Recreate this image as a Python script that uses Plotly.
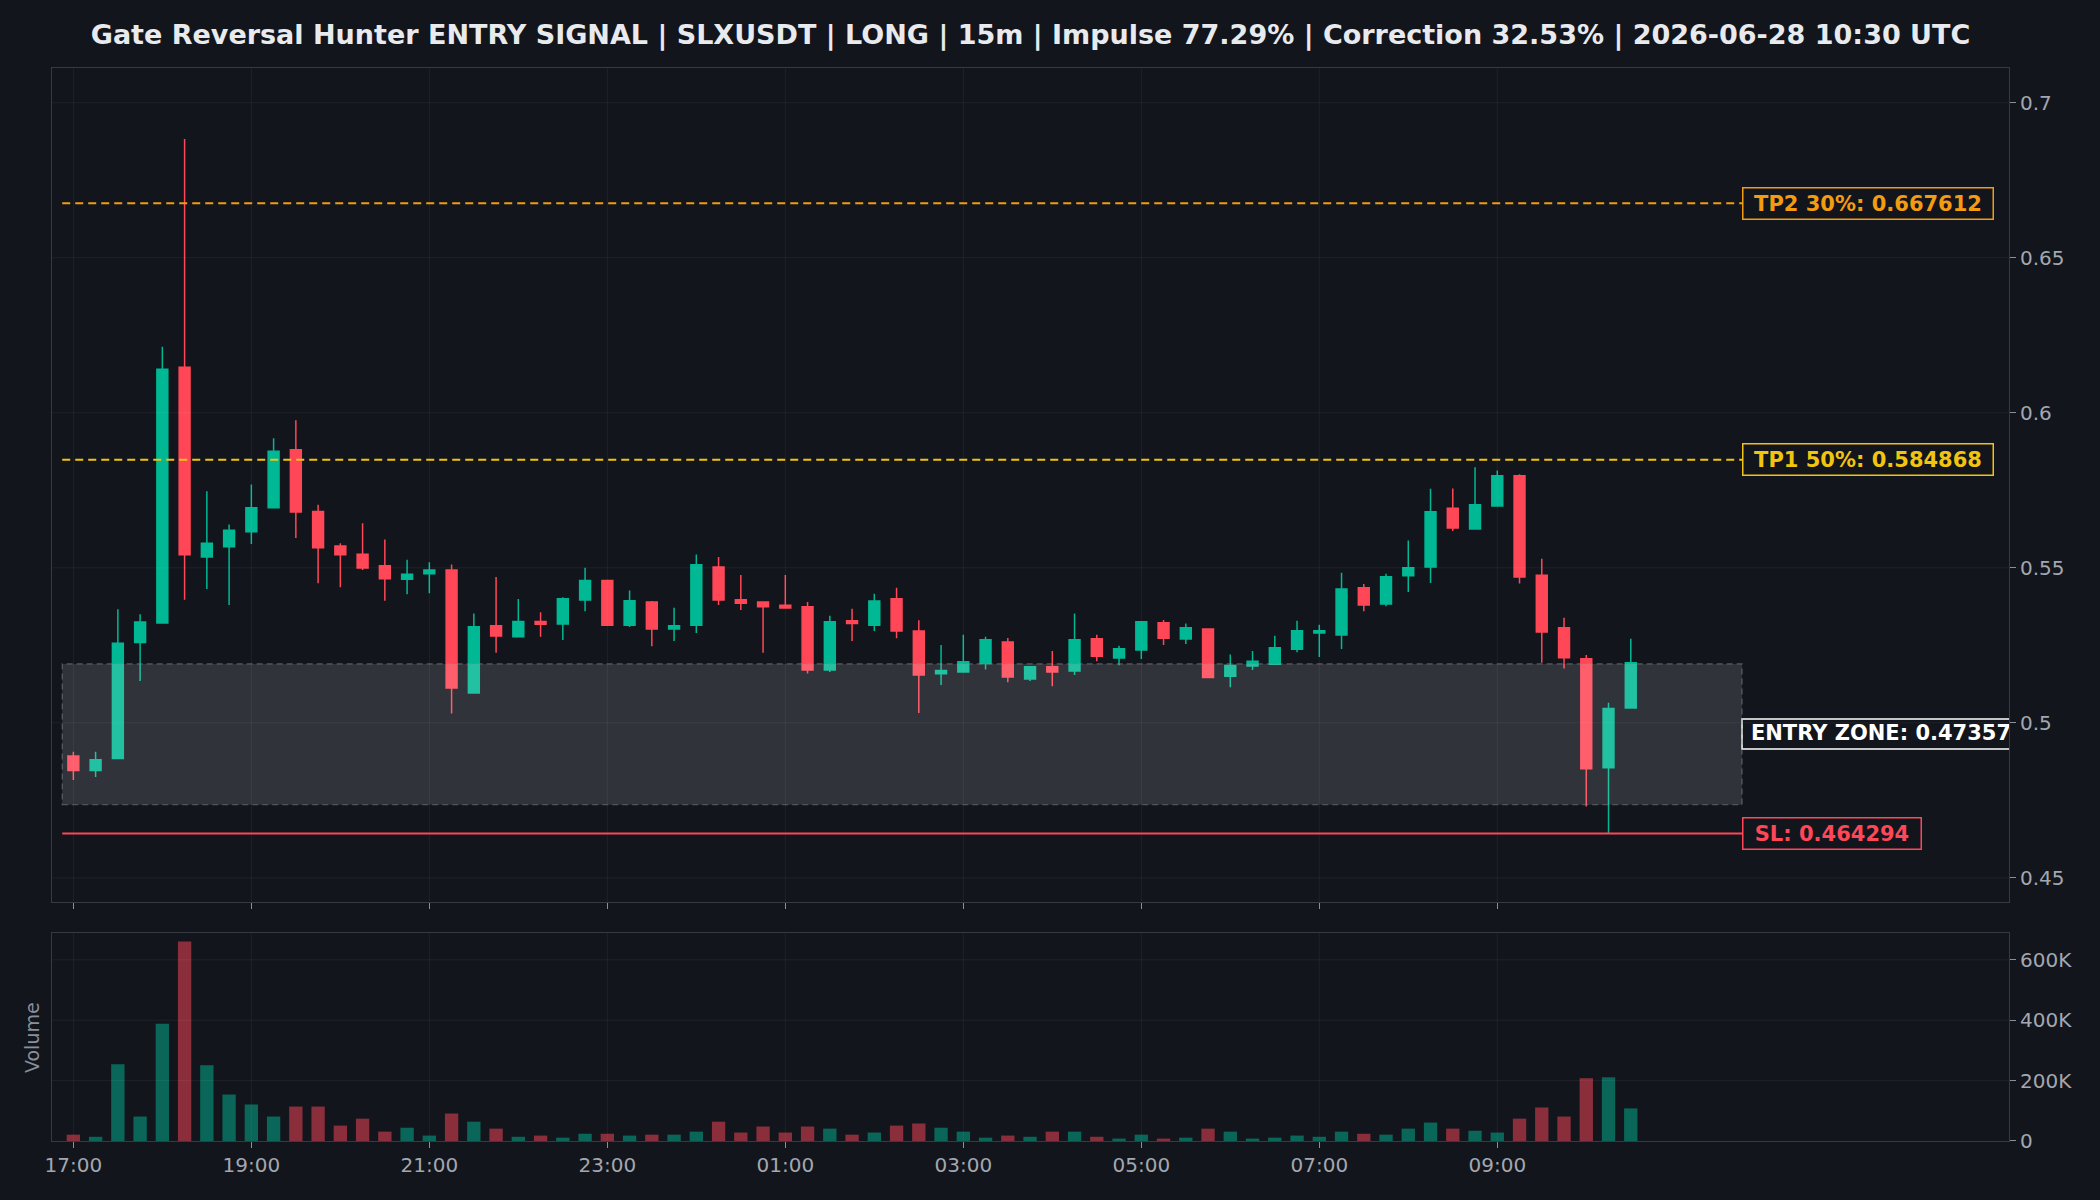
import pandas as pd
import plotly.graph_objects as go

# ---------------- data ----------------
start_time = "2026-06-27 17:00"
n_bars = 71
opens = [0.4893, 0.4846, 0.4885, 0.5259, 0.5322, 0.6147, 0.5535, 0.5568, 0.5616, 0.5694,
         0.5881, 0.5682, 0.5570, 0.5544, 0.5507, 0.5463, 0.5481, 0.5493, 0.5096, 0.5313,
         0.5278, 0.5327, 0.5319, 0.5396, 0.5459, 0.5315, 0.5390, 0.5303, 0.5315, 0.5503,
         0.5397, 0.5390, 0.5379, 0.5374, 0.5170, 0.5329, 0.5315, 0.5400, 0.5296, 0.5158,
         0.5164, 0.5191, 0.5261, 0.5141, 0.5181, 0.5167, 0.5271, 0.5209, 0.5235, 0.5323,
         0.5270, 0.5303, 0.5150, 0.5183, 0.5189, 0.5237, 0.5290, 0.5283, 0.5436, 0.5383,
         0.5474, 0.5503, 0.5692, 0.5625, 0.5699, 0.5797, 0.5476, 0.5307, 0.5207, 0.4855,
         0.5048]
highs = [0.4907, 0.4907, 0.5366, 0.5350, 0.6213, 0.6883, 0.5747, 0.5640, 0.5769, 0.5918,
         0.5976, 0.5703, 0.5579, 0.5644, 0.5591, 0.5526, 0.5518, 0.5511, 0.5353, 0.5470,
         0.5399, 0.5357, 0.5405, 0.5500, 0.5461, 0.5427, 0.5393, 0.5371, 0.5543, 0.5535,
         0.5477, 0.5391, 0.5477, 0.5390, 0.5345, 0.5368, 0.5416, 0.5436, 0.5331, 0.5251,
         0.5284, 0.5278, 0.5274, 0.5183, 0.5232, 0.5353, 0.5284, 0.5249, 0.5328, 0.5332,
         0.5320, 0.5305, 0.5220, 0.5232, 0.5281, 0.5329, 0.5316, 0.5484, 0.5448, 0.5481,
         0.5588, 0.5755, 0.5756, 0.5824, 0.5814, 0.5802, 0.5529, 0.5339, 0.5219, 0.5065,
         0.5271]
lows = [0.4816, 0.4825, 0.4883, 0.5135, 0.5320, 0.5397, 0.5432, 0.5380, 0.5577, 0.5692,
        0.5596, 0.5450, 0.5437, 0.5493, 0.5394, 0.5415, 0.5418, 0.5030, 0.5094, 0.5226,
        0.5276, 0.5278, 0.5267, 0.5360, 0.5313, 0.5309, 0.5247, 0.5264, 0.5290, 0.5380,
        0.5364, 0.5226, 0.5369, 0.5159, 0.5164, 0.5264, 0.5296, 0.5273, 0.5032, 0.5122,
        0.5163, 0.5172, 0.5131, 0.5135, 0.5118, 0.5154, 0.5199, 0.5186, 0.5206, 0.5251,
        0.5254, 0.5144, 0.5115, 0.5170, 0.5188, 0.5228, 0.5212, 0.5238, 0.5360, 0.5376,
        0.5422, 0.5451, 0.5619, 0.5624, 0.5698, 0.5449, 0.5194, 0.5175, 0.4730, 0.4643,
        0.5047]
closes = [0.4846, 0.4881, 0.5257, 0.5325, 0.6140, 0.5542, 0.5579, 0.5621, 0.5694, 0.5876,
          0.5680, 0.5565, 0.5542, 0.5499, 0.5465, 0.5479, 0.5493, 0.5112, 0.5310, 0.5280,
          0.5327, 0.5318, 0.5400, 0.5459, 0.5315, 0.5394, 0.5303, 0.5313, 0.5510, 0.5396,
          0.5386, 0.5374, 0.5370, 0.5170, 0.5326, 0.5320, 0.5393, 0.5296, 0.5154, 0.5169,
          0.5197, 0.5268, 0.5148, 0.5181, 0.5164, 0.5268, 0.5215, 0.5239, 0.5326, 0.5273,
          0.5307, 0.5146, 0.5185, 0.5199, 0.5242, 0.5297, 0.5297, 0.5432, 0.5380, 0.5471,
          0.5500, 0.5681, 0.5628, 0.5703, 0.5797, 0.5470, 0.5293, 0.5210, 0.4852, 0.5046,
          0.5194]
volumes_k = [21, 14, 254, 81, 388, 661, 251, 154, 121, 81, 114, 114, 51, 74, 31, 44, 18, 91,
             64, 41, 14, 18, 11, 24, 24, 18, 21, 21, 31, 64, 28, 48, 28, 48, 41, 21, 28, 51,
             58, 44, 31, 11, 18, 14, 31, 31, 14, 8, 21, 8, 11, 41, 31, 8, 11, 18, 14, 31, 24,
             21, 41, 61, 41, 34, 28, 74, 111, 81, 208, 211, 108]

tp2_price = 0.667612
tp1_price = 0.584868
sl_price = 0.464294
entry_low = 0.473574
entry_high = 0.5190
entry_label = "ENTRY ZONE: 0.47357"

price_tick_vals = [0.45, 0.5, 0.55, 0.6, 0.65, 0.7]
price_tick_text = ["0.45", "0.5", "0.55", "0.6", "0.65", "0.7"]
vol_tick_vals = [0, 200000, 400000, 600000]
vol_tick_text = ["0", "200K", "400K", "600K"]
time_tick_text = ["17:00", "19:00", "21:00", "23:00", "01:00", "03:00", "05:00", "07:00", "09:00"]

title_text = ("Gate Reversal Hunter ENTRY SIGNAL | SLXUSDT | LONG | 15m | Impulse 77.29% | "
              "Correction 32.53% | 2026-06-28 10:30 UTC")

# ---------------- derived ----------------
bar = pd.Timedelta(minutes=15)
times = pd.date_range(start_time, periods=n_bars, freq="15min")
volumes = [v * 1000 for v in volumes_k]
time_ticks = pd.date_range(start_time, periods=len(time_tick_text), freq="2h")

GREEN = "#00b894"
RED = "#ff4757"
BG = "#12151c"
AXIS = "#363a45"
GRID = "rgba(255,255,255,0.055)"
TICKC = "#a3a7b0"
FONT = "DejaVu Sans"

x_range = [times[0] - 0.96 * bar, times[0] + 87 * bar]
zone_x0 = times[0] - 0.5 * bar
zone_x1 = times[-1] + 5 * bar

vol_colors = ["rgba(0,184,148,0.5)" if c >= o else "rgba(255,71,87,0.5)"
              for o, c in zip(opens, closes)]

fig = go.Figure()
fig.add_trace(go.Candlestick(
    x=times, open=opens, high=highs, low=lows, close=closes,
    increasing=dict(line=dict(color=GREEN, width=1.5), fillcolor=GREEN),
    decreasing=dict(line=dict(color=RED, width=1.5), fillcolor=RED),
    whiskerwidth=0, showlegend=False, xaxis="x", yaxis="y",
))
fig.add_trace(go.Bar(
    x=times, y=volumes, marker=dict(color=vol_colors, line=dict(width=0)),
    showlegend=False, xaxis="x2", yaxis="y2",
))
# entry label text (clipped by the plot area like the reference)
fig.add_trace(go.Scatter(
    x=[zone_x1 + pd.Timedelta(minutes=6)], y=[(entry_low + entry_high) / 2],
    mode="text", text=[f"<b>{entry_label}</b>"], textposition="middle right",
    textfont=dict(family=FONT, size=21, color="#ffffff"),
    showlegend=False, hoverinfo="skip", xaxis="x", yaxis="y", cliponaxis=True,
))

shapes = []
# entry label box (clipped at the axis), under the label text
shapes.append(dict(type="rect", xref="x", yref="y", x0=zone_x1, x1=x_range[1] + 10 * bar,
                   y0=0.4916, y1=0.5012, fillcolor=BG,
                   line=dict(color="#ffffff", width=1.5), layer="below"))
# grid lines drawn above the marks
for t in time_ticks:
    shapes.append(dict(type="line", xref="x", yref="y domain", x0=t, x1=t, y0=0, y1=1,
                       line=dict(color=GRID, width=1), layer="above"))
    shapes.append(dict(type="line", xref="x2", yref="y2 domain", x0=t, x1=t, y0=0, y1=1,
                       line=dict(color=GRID, width=1), layer="above"))
for v in price_tick_vals:
    shapes.append(dict(type="line", xref="x", yref="y", x0=x_range[0], x1=zone_x1, y0=v, y1=v,
                       line=dict(color=GRID, width=1), layer="above"))
    shapes.append(dict(type="line", xref="x", yref="y", x0=zone_x1, x1=x_range[1], y0=v, y1=v,
                       line=dict(color=GRID, width=1), layer="below"))
for v in vol_tick_vals[1:]:
    shapes.append(dict(type="line", xref="x2 domain", yref="y2", x0=0, x1=1, y0=v, y1=v,
                       line=dict(color=GRID, width=1), layer="above"))

# entry zone
shapes.append(dict(type="rect", xref="x", yref="y", x0=zone_x0, x1=zone_x1,
                   y0=entry_low, y1=entry_high, fillcolor="rgba(255,255,255,0.13)",
                   line=dict(color="rgba(140,140,140,0.55)", width=1.2, dash="6px,4px"),
                   layer="above"))
# TP / SL lines
shapes.append(dict(type="line", xref="x", yref="y", x0=zone_x0, x1=zone_x1,
                   y0=tp2_price, y1=tp2_price, line=dict(color="#f39c12", width=2, dash="8px,5px"),
                   layer="above"))
shapes.append(dict(type="line", xref="x", yref="y", x0=zone_x0, x1=zone_x1,
                   y0=tp1_price, y1=tp1_price, line=dict(color="#f1c40f", width=2, dash="8px,5px"),
                   layer="above"))
shapes.append(dict(type="line", xref="x", yref="y", x0=zone_x0, x1=zone_x1,
                   y0=sl_price, y1=sl_price, line=dict(color=RED, width=2), layer="above"))

annotations = []
for txt, yv, col, w in [(f"TP2 30%: {tp2_price:.6f}", tp2_price, "#f39c12", 243),
                        (f"TP1 50%: {tp1_price:.6f}", tp1_price, "#f1c40f", 243),
                        (f"SL: {sl_price:.6f}", sl_price, RED, 171)]:
    annotations.append(dict(x=zone_x1, y=yv, xref="x", yref="y", xanchor="left",
                            yanchor="middle", text=f"<b>{txt}</b>", showarrow=False,
                            font=dict(family=FONT, size=21, color=col),
                            bordercolor=col, borderwidth=1.5, borderpad=3,
                            bgcolor=BG, width=w, align="center"))
annotations.append(dict(x=-0.0102, y=0.096, xref="paper", yref="paper", text="Volume",
                        textangle=-90, showarrow=False, xanchor="center", yanchor="middle",
                        font=dict(family=FONT, size=19, color="#8a8f9a")))

axis_common = dict(showline=True, mirror=True, linecolor=AXIS, linewidth=1,
                   showgrid=False, zeroline=False, ticks="outside", ticklen=6,
                   tickcolor="#8a8f9a", tickfont=dict(family=FONT, size=20, color=TICKC))

fig.update_layout(
    width=2100, height=1200,
    paper_bgcolor=BG, plot_bgcolor=BG,
    margin=dict(l=52, r=91, t=68, b=59),
    font=dict(family=FONT, color=TICKC),
    title=dict(text=f"<b>{title_text}</b>", x=0.5, xref="paper", xanchor="center",
               y=1 - 35 / 1200, yref="container", yanchor="middle",
               font=dict(family=FONT, size=27, color="#e8eaed")),
    bargap=0.4,
    showlegend=False,
    shapes=shapes,
    annotations=annotations,
    xaxis=dict(domain=[0, 1], anchor="y", range=x_range, type="date",
               tickvals=list(time_ticks), showticklabels=False,
               rangeslider=dict(visible=False), **axis_common),
    yaxis=dict(domain=[0.2227, 1], anchor="x", side="right", range=[0.4422, 0.7112],
               tickvals=price_tick_vals, ticktext=price_tick_text, **axis_common),
    xaxis2=dict(domain=[0, 1], anchor="y2", range=x_range, type="date", matches="x",
                tickvals=list(time_ticks), ticktext=time_tick_text, **axis_common),
    yaxis2=dict(domain=[0, 0.1939], anchor="x2", side="right", range=[0, 689000],
                tickvals=vol_tick_vals, ticktext=vol_tick_text, **axis_common),
)

fig.write_html("out.html")
